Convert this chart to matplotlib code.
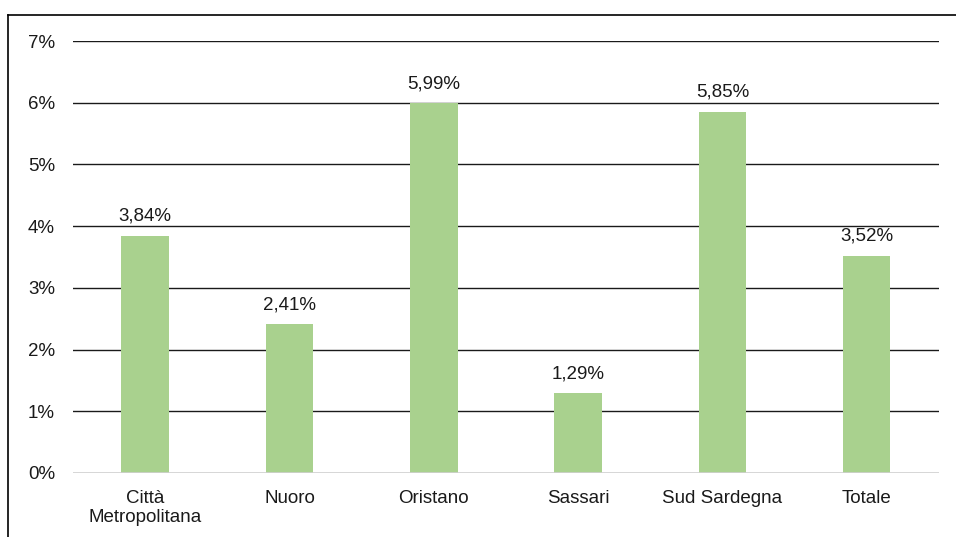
import matplotlib
matplotlib.use("Agg")
import matplotlib.pyplot as plt
from matplotlib.lines import Line2D
from matplotlib.ticker import FuncFormatter

# incidenza percentuale per provincia
categorie = ["Città\nMetropolitana", "Nuoro", "Oristano", "Sassari", "Sud Sardegna", "Totale"]
valori = [3.84, 2.41, 5.99, 1.29, 5.85, 3.52]
etichette = ["3,84%", "2,41%", "5,99%", "1,29%", "5,85%", "3,52%"]

BAR_COLOR = "#a9d18e"
GRID_COLOR = "#1a1a1a"
TEXT_COLOR = "#1a1a1a"
FS = 13.5

plt.rcParams["font.family"] = ["Liberation Sans", "DejaVu Sans"]

fig = plt.figure(figsize=(9.56, 5.37), dpi=100, facecolor="white")
ax = fig.add_axes([0.0764, 0.1192, 0.9056, 0.8044])

x = range(len(categorie))
bars = ax.bar(x, valori, width=0.33, color=BAR_COLOR, zorder=3)
ax.bar_label(bars, labels=etichette, padding=8, fontsize=FS, color=TEXT_COLOR)

ax.set_ylim(0, 7)
ax.set_xlim(-0.5, len(categorie) - 0.5)
ax.set_yticks(range(0, 8))
ax.yaxis.set_major_formatter(FuncFormatter(lambda v, _: f"{int(v)}%"))
ax.set_xticks(list(x))
ax.set_xticklabels(categorie, linespacing=1.2)

for y in range(1, 8):
    ax.axhline(y, color=GRID_COLOR, linewidth=1.0, zorder=1)
ax.axhline(0, color="#d0d0d0", linewidth=1.2, zorder=4)

for s in ax.spines.values():
    s.set_visible(False)
ax.tick_params(axis="both", length=0, labelsize=FS, colors=TEXT_COLOR)
ax.tick_params(axis="y", pad=13)
ax.tick_params(axis="x", pad=12)

# cornice esterna (lati superiore e sinistro)
x0 = 7.5 / 956
y0 = 1 - 14.5 / 537
fig.add_artist(Line2D([x0, 1.0], [y0, y0], transform=fig.transFigure, color="black", linewidth=1.2))
fig.add_artist(Line2D([x0, x0], [0.0, y0], transform=fig.transFigure, color="black", linewidth=1.2))

fig.savefig("out.png", dpi=100, facecolor="white")
